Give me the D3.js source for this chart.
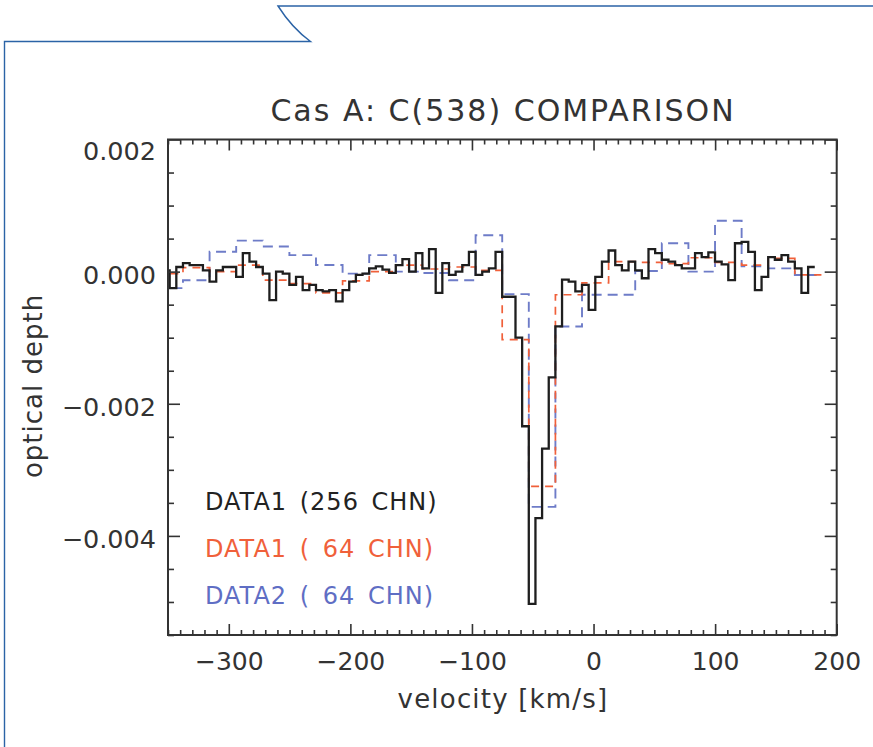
<!DOCTYPE html>
<html><head><meta charset="utf-8">
<script src="https://cdn.jsdelivr.net/npm/d3@7"></script>
<style>
body{margin:0;background:#fff}
svg{display:block}
text{font-family:"DejaVu Sans",sans-serif;fill:#333}
</style>
</head><body>
<svg id="c" width="873" height="747"></svg>
<script>
// ---------- data ----------
const title = "Cas A: C(538) COMPARISON";
const xLabel = "velocity [km/s]";
const yLabel = "optical depth";
const xTickValues = [-300, -200, -100, 0, 100, 200];
const yTickValues = [0.002, 0.000, -0.002, -0.004];
const legendLabels = ["DATA1 (256 CHN)", "DATA1 ( 64 CHN)", "DATA2 ( 64 CHN)"];

// DATA1, 256 channels: first channel start velocity and channel width (km/s)
const data1_256_start = -354.1;
const data1_256_width = 5.47;
const data1_256 = [
  0.00002,-0.00025,0.00007,0.00013,0.00010,0.00010,0.00002,-0.00015,0.00002,0.00007,
  0.00007,-0.00008,0.00028,0.00015,0.00007,-0.00003,-0.00043,0.00000,-0.00003,-0.00020,
  -0.00008,-0.00028,-0.00020,-0.00028,-0.00030,-0.00028,-0.00045,-0.00028,-0.00015,-0.00005,
  -0.00003,0.00005,0.00008,0.00003,-0.00002,0.00010,0.00019,0.00000,0.00028,0.00005,
  0.00034,-0.00032,0.00013,-0.00005,0.00000,0.00010,0.00030,-0.00005,0.00000,0.00005,
  0.00030,-0.00038,-0.00038,-0.00100,-0.00234,-0.00503,-0.00373,-0.00268,-0.00160,-0.00083,
  -0.00012,-0.00015,-0.00030,-0.00020,-0.00058,-0.00008,0.00015,0.00032,0.00010,0.00002,
  0.00015,0.00002,-0.00010,0.00034,0.00028,0.00018,0.00015,0.00010,0.00005,0.00005,
  0.00028,0.00022,0.00029,0.00015,0.00011,-0.00013,0.00043,0.00045,0.00030,-0.00028,
  -0.00008,0.00022,0.00018,0.00025,0.00015,0.00005,-0.00032,0.00007
];

// 64-channel spectra: first channel start velocity and channel width (km/s)
const data64_start = -359.56;
const data64_width = 21.88;
const data1_64 = [
  -0.00003,0.00006,0.00000,0.00010,-0.00013,-0.00018,-0.00032,-0.00014,0.00000,0.00010,
  0.00004,0.00007,0.00002,-0.00103,-0.00325,-0.00035,-0.00017,0.00015,0.00014,0.00012,
  0.00021,0.00014,0.00010,0.00020,-0.00005
];
const data2_64 = [
  -0.00025,-0.00013,0.00030,0.00047,0.00038,0.00025,0.00010,-0.00003,0.00025,0.00000,
  -0.00002,-0.00013,0.00055,-0.00034,-0.00356,-0.00083,-0.00035,-0.00035,0.00001,0.00043,
  0.00000,0.00077,0.00008,0.00005,-0.00005
];

// ---------- layout ----------
const svg = d3.select("#c");
const L = 168, R = 836.7, T = 139.5, B = 635;
const x = d3.scaleLinear().domain([-350, 200]).range([L, R]);
const y = d3.scaleLinear().domain([-0.0055, 0.002]).range([B, T]);
const axisColor = "#333";

// decorative frame
svg.append("path")
  .attr("d", "M4.5,747 V41.5 H310.5 Q292,28 278,6 H873")
  .attr("fill", "none").attr("stroke", "#2b63a6").attr("stroke-width", 1.4);

// clip
svg.append("clipPath").attr("id", "clip")
  .append("rect").attr("x", L).attr("y", T).attr("width", R - L).attr("height", B - T);

function stepPoints(start, width, vals) {
  const pts = [];
  vals.forEach((v, i) => {
    pts.push([start + i * width, v]);
    pts.push([start + (i + 1) * width, v]);
  });
  return pts;
}
const line = d3.line().x(d => x(d[0])).y(d => y(d[1]));

const g = svg.append("g").attr("clip-path", "url(#clip)");
g.append("path").datum(stepPoints(data64_start, data64_width, data2_64))
  .attr("d", line).attr("fill", "none").attr("stroke", "#6e7cc8")
  .attr("stroke-width", 1.9).attr("stroke-dasharray", "10,6");
g.append("path").datum(stepPoints(data64_start, data64_width, data1_64))
  .attr("d", line).attr("fill", "none").attr("stroke", "#f0603a")
  .attr("stroke-width", 1.7).attr("stroke-dasharray", "8,6");
g.append("path").datum(stepPoints(data1_256_start, data1_256_width, data1_256))
  .attr("d", line).attr("fill", "none").attr("stroke", "#1e1e1e")
  .attr("stroke-width", 2.3);

// minor ticks
const xMinor = d3.range(-350, 201, 10).filter(v => !xTickValues.includes(v));
const yMinor = d3.range(-11, 5).map(i => i * 0.0005).filter(v => !yTickValues.some(t => Math.abs(t - v) < 1e-9));

function styleAxis(sel) {
  sel.select(".domain").remove();
  sel.selectAll(".tick line").attr("stroke", axisColor).attr("stroke-width", 1.6);
  sel.selectAll("text").attr("fill", "#333");
}

// bottom
svg.append("g").attr("transform", `translate(0,${B})`)
  .call(d3.axisBottom(x).tickValues(xTickValues).tickSizeInner(-11).tickSizeOuter(0).tickPadding(14).tickFormat(d3.format("d")))
  .call(styleAxis).call(s => s.selectAll("text").attr("font-size", 25).attr("dy", "0.85em"));
svg.append("g").attr("transform", `translate(0,${B})`)
  .call(d3.axisBottom(x).tickValues(xMinor).tickSizeInner(-5).tickSizeOuter(0).tickFormat(""))
  .call(styleAxis);
// top
svg.append("g").attr("transform", `translate(0,${T})`)
  .call(d3.axisTop(x).tickValues(xTickValues).tickSizeInner(-11).tickSizeOuter(0).tickFormat(""))
  .call(styleAxis);
svg.append("g").attr("transform", `translate(0,${T})`)
  .call(d3.axisTop(x).tickValues(xMinor).tickSizeInner(-5).tickSizeOuter(0).tickFormat(""))
  .call(styleAxis);
// left
svg.append("g").attr("transform", `translate(${L},0)`)
  .call(d3.axisLeft(y).tickValues(yTickValues).tickSizeInner(-12).tickSizeOuter(0).tickPadding(12).tickFormat(d3.format(".3f")))
  .call(styleAxis).call(s => s.selectAll("text").attr("font-size", 25.5)
     .attr("dy", d => d === 0.002 ? "0.78em" : "0.45em"));
svg.append("g").attr("transform", `translate(${L},0)`)
  .call(d3.axisLeft(y).tickValues(yMinor).tickSizeInner(-6).tickSizeOuter(0).tickFormat(""))
  .call(styleAxis);
// right
svg.append("g").attr("transform", `translate(${R},0)`)
  .call(d3.axisRight(y).tickValues(yTickValues).tickSizeInner(-12).tickSizeOuter(0).tickFormat(""))
  .call(styleAxis);
svg.append("g").attr("transform", `translate(${R},0)`)
  .call(d3.axisRight(y).tickValues(yMinor).tickSizeInner(-6).tickSizeOuter(0).tickFormat(""))
  .call(styleAxis);

// box
svg.append("rect").attr("x", L).attr("y", T).attr("width", R - L).attr("height", B - T)
  .attr("fill", "none").attr("stroke", axisColor).attr("stroke-width", 2);

// title & labels
svg.append("text").attr("x", 503).attr("y", 121).attr("text-anchor", "middle")
  .attr("font-size", 30).attr("letter-spacing", 2).text(title);
svg.append("text").attr("x", 503).attr("y", 708).attr("text-anchor", "middle")
  .attr("font-size", 26).attr("letter-spacing", 1.2).text(xLabel);
svg.append("text").attr("transform", "translate(42,386) rotate(-90)").attr("text-anchor", "middle")
  .attr("font-size", 26).attr("letter-spacing", 1).text(yLabel);

// legend
const legendColors = ["#222", "#f0603a", "#5f6ec4"];
legendLabels.forEach((t, i) => {
  svg.append("text").attr("x", 205).attr("y", 510 + i * 47)
    .attr("font-size", 24).attr("letter-spacing", 1)
    .style("fill", legendColors[i]).style("white-space", "pre").style("word-spacing", "4px")
    .text(t);
});
</script>
</body></html>
